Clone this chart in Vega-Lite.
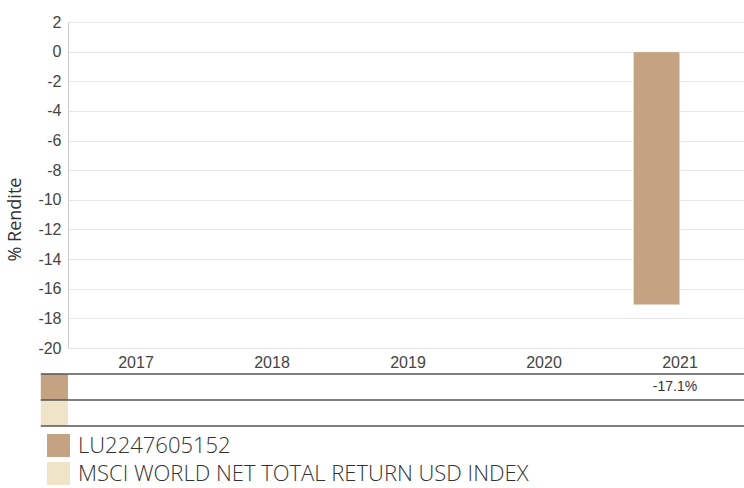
{
  "$schema": "https://vega.github.io/schema/vega-lite/v6.json",
  "padding": {"left": 6, "top": 14, "right": 0, "bottom": 0},
  "background": "white",
  "datasets": {
    "returns": [
      {"year": 2021, "series": "LU2247605152", "value": -17.1}
    ],
    "series": [
      {"series": "LU2247605152"},
      {"series": "MSCI WORLD NET TOTAL RETURN USD INDEX"}
    ]
  },
  "config": {
    "view": {"stroke": null},
    "font": "Liberation Sans"
  },
  "spacing": 3,
  "resolve": {"scale": {"color": "shared"}, "legend": {"color": "independent"}},
  "vconcat": [
    {
      "width": 680,
      "height": 326,
      "data": {"name": "returns"},
      "mark": {"type": "bar", "stroke": "white", "strokeWidth": 1},
      "encoding": {
        "x": {
          "field": "year",
          "type": "ordinal",
          "scale": {"domain": [2017, 2018, 2019, 2020, 2021], "paddingInner": 0.31, "paddingOuter": 0.155},
          "axis": {
            "title": null,
            "labelAngle": 0,
            "domain": false,
            "ticks": false,
            "labelFont": "Liberation Sans",
            "labelFontSize": 16,
            "labelColor": "#444",
            "labelPadding": 6
          }
        },
        "xOffset": {
          "field": "series",
          "scale": {"domain": ["LU2247605152", "MSCI WORLD NET TOTAL RETURN USD INDEX"]}
        },
        "y": {
          "field": "value",
          "type": "quantitative",
          "scale": {"domain": [-20, 2], "nice": false},
          "axis": {
            "title": "% Rendite",
            "titleFont": "Open Sans",
            "titleFontSize": 18,
            "titleFontWeight": "normal",
            "titleColor": "#333",
            "titlePadding": 13,
            "titleY": 197,
            "values": [-20, -18, -16, -14, -12, -10, -8, -6, -4, -2, 0, 2],
            "labelExpr": "'' + datum.value",
            "grid": true,
            "gridColor": "#e6e6e6",
            "domainColor": "#cccccc",
            "ticks": false,
            "labelFont": "Liberation Sans",
            "labelFontSize": 16,
            "labelColor": "#444",
            "labelPadding": 7
          }
        },
        "color": {
          "field": "series",
          "type": "nominal",
          "scale": {"domain": ["LU2247605152", "MSCI WORLD NET TOTAL RETURN USD INDEX"], "range": ["#c4a282", "#efe3c8"]},
          "legend": null
        }
      }
    },
    {
      "width": 680,
      "height": 52,
      "layer": [
        {
          "data": {"name": "series"},
          "mark": {"type": "rect"},
          "encoding": {
            "x": {"datum": 2016.3, "type": "quantitative", "scale": {"domain": [2016.5, 2021.5], "nice": false, "zero": false}, "axis": null},
            "x2": {"datum": 2016.5},
            "y": {"field": "series", "type": "nominal", "scale": {"domain": ["LU2247605152", "MSCI WORLD NET TOTAL RETURN USD INDEX"], "paddingInner": 0, "paddingOuter": 0}, "axis": null},
            "color": {
              "field": "series",
              "type": "nominal",
              "legend": {
                "title": null,
                "orient": "none",
                "legendX": -21,
                "legendY": 60,
                "direction": "vertical",
                "symbolType": "square",
                "symbolSize": 529,
                "symbolStrokeWidth": 0,
                "symbolOpacity": 1,
                "labelFont": "Open Sans",
                "labelFontSize": 22,
                "labelFontWeight": 300,
                "labelColor": "#333",
                "labelOffset": 8,
                "labelLimit": 0,
                "rowPadding": 5
              }
            }
          }
        },
        {
          "data": {"name": "series"},
          "mark": {"type": "rule", "color": "#555", "strokeWidth": 1.5},
          "encoding": {
            "x": {"datum": 2016.3, "type": "quantitative"},
            "x2": {"datum": 2021.5},
            "y": {"field": "series", "type": "nominal", "bandPosition": 0}
          }
        },
        {
          "data": {"values": [{"series": "MSCI WORLD NET TOTAL RETURN USD INDEX"}]},
          "mark": {"type": "rule", "color": "#555", "strokeWidth": 1.5},
          "encoding": {
            "x": {"datum": 2016.3, "type": "quantitative"},
            "x2": {"datum": 2021.5},
            "y": {"field": "series", "type": "nominal", "bandPosition": 1}
          }
        },
        {
          "data": {"name": "returns"},
          "transform": [{"calculate": "datum.value + '%'", "as": "label"}],
          "mark": {"type": "text", "font": "Liberation Sans", "fontSize": 14, "color": "#333", "align": "center", "baseline": "middle", "dx": -5},
          "encoding": {
            "x": {"field": "year", "type": "quantitative"},
            "y": {"field": "series", "type": "nominal"},
            "text": {"field": "label"}
          }
        }
      ]
    }
  ]
}
